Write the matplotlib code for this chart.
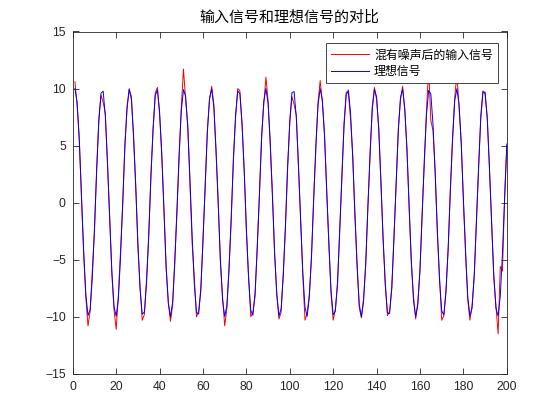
import numpy as np
import matplotlib
matplotlib.use('Agg')
import matplotlib.pyplot as plt

plt.rcParams['font.family'] = ['Noto Sans CJK SC', 'DejaVu Sans']

# ideal signal (blue)
ideal = [10.0, 8.78, 5.40, 0.71, -4.16, -8.01, -9.90, -9.36, -6.54, -2.11,
         2.84, 7.09, 9.60, 9.77, 7.54, 3.47, -1.46, -6.02, -9.11, -9.97,
         -8.39, -4.76, 0.04, 4.85, 8.44, 9.98, 9.07, 5.95, 1.37, -3.55,
         -7.60, -9.78, -9.58, -7.03, -2.75, 2.19, 6.60, 9.40, 9.89, 7.96,
         4.09, -0.80, -5.47, -8.82, -10.0, -8.73, -5.33, -0.62, 4.24, 8.06,
         9.91, 9.33, 6.47, 2.02, -2.92, -7.15, -9.63, -9.75, -7.48, -3.38,
         1.54, 6.09, 9.15, 9.96, 8.34, 4.68, -0.13, -4.91, -8.49, -9.98,
         -9.04, -5.88, -1.28, 3.63, 7.65, 9.80, 9.55, 6.96, 2.67, -2.28,
         -6.67, -9.43, -9.87, -7.90, -4.00, 0.88, 5.56, 8.86, 10.0, 8.69,
         5.25, 0.53, -4.32, -8.12, -9.92, -9.30, -6.40, -1.94, 3.01, 7.21,
         9.65, 9.73, 7.42, 3.30, -1.63, -6.16, -9.18, -9.96, -8.29, -4.60,
         0.22, 5.00, 8.53, 9.99, 9.00, 5.80, 1.20, -3.71, -7.71, -9.82,
         -9.52, -6.90, -2.58, 2.37, 6.73, 9.45, 9.86, 7.85, 3.92, -0.97,
         -5.62, -8.90, -10.0, -8.65, -5.18, -0.44, 4.41, 8.17, 9.93, 9.27,
         6.34, 1.85, -3.09, -7.27, -9.67, -9.71, -7.36, -3.22, 1.72, 6.23,
         9.22, 9.95, 8.24, 4.52, -0.31, -5.06, -8.58, -9.99, -8.96, -5.74,
         -1.11, 3.80, 7.77, 9.84, 9.50, 6.83, 2.50, -2.45, -6.80, -9.48,
         -9.84, -7.80, -3.84, 1.06, 5.70, 8.94, 9.99, 8.60, 5.10, 0.36,
         -4.48, -8.22, -9.94, -9.24, -6.27, -1.76, 3.17, 7.33, 9.69, 9.68,
         7.30, 3.14, -1.80, -6.30, -9.25, -9.94, -8.19, -4.44, 0.40, 5.14]

# noisy input signal (red)
noisy = [10.6, 8.5, 5.6, 0.4, -4.5, -8.3, -10.8, -9.5, -5.9, -2.5,
         3.0, 7.4, 9.4, 8.8, 7.8, 3.2, -1.2, -6.3, -9.4, -11.1,
         -8.1, -4.2, -0.3, 5.1, 8.2, 9.9, 9.3, 5.6, 1.6, -3.9,
         -7.3, -10.3, -9.8, -6.6, -3.0, 2.5, 6.3, 9.6, 10.1, 7.7,
         4.4, -0.5, -5.8, -8.6, -10.4, -9.0, -5.0, -0.9, 4.0, 8.4,
         11.7, 9.0, 6.8, 1.7, -3.6, -6.6, -10.0, -9.5, -7.8, -3.1,
         1.3, 6.4, 9.0, 10.2, 8.6, 4.4, 0.2, -5.2, -8.2, -10.8,
         -9.3, -5.6, -1.6, 3.9, 7.4, 10.0, 9.8, 6.7, 2.9, -2.6,
         -6.4, -10.0, -9.6, -8.2, -3.7, 0.6, 5.9, 8.6, 11.0, 8.9,
         5.0, 0.8, -4.6, -7.9, -10.2, -9.6, -6.1, -2.2, 3.3, 7.0,
         9.3, 8.6, 7.7, 3.0, -1.4, -6.4, -10.3, -9.7, -8.0, -4.9,
         0.5, 4.7, 8.8, 10.7, 8.8, 6.1, 0.9, -3.4, -8.0, -10.3,
         -9.3, -7.2, -2.3, 2.1, 7.0, 9.7, 9.6, 7.3, 4.2, -1.2,
         -5.3, -9.2, -10.1, -8.4, -5.5, -0.2, 4.1, 8.4, 10.1, 9.0,
         6.6, 1.6, -3.3, -7.0, -9.9, -9.5, -7.6, -2.9, 1.5, 6.5,
         9.0, 10.2, 8.0, 4.8, -0.6, -5.3, -8.2, -10.2, -8.7, -6.0,
         -0.8, 3.5, 8.1, 11.8, 7.2, 6.3, 2.8, -2.7, -6.5, -10.3,
         -9.9, -7.5, -4.1, 1.3, 5.4, 9.2, 11.3, 8.4, 5.4, 0.1,
         -4.2, -8.5, -10.3, -9.0, -6.5, -1.5, 2.9, 7.6, 9.8, 9.5,
         7.5, 2.9, -1.6, -6.6, -9.0, -11.5, -5.6, -6.0, 0.6, 5.0]

n = np.arange(1, len(ideal) + 1)

fig = plt.figure(figsize=(5.6, 4.2), dpi=100)
ax = fig.add_axes([0.13, 0.11, 0.775, 0.815])

ax.plot(n, noisy, color='r', linewidth=0.7, label='混有噪声后的输入信号')
ax.plot(n, ideal, color='b', linewidth=0.7, label='理想信号')

ax.set_xlim(0, 200)
ax.set_ylim(-15, 15)
ax.set_xticks(np.arange(0, 201, 20))
ax.set_yticks(np.arange(-15, 16, 5))
ax.tick_params(direction='in', top=True, right=True, length=4, width=0.6,
               labelsize=8.8, colors='#262626', pad=5)
for lbl in ax.get_xticklabels() + ax.get_yticklabels():
    lbl.set_family(['Liberation Sans', 'DejaVu Sans'])
for s in ax.spines.values():
    s.set_linewidth(0.6)
    s.set_color('#262626')

ax.set_title('输入信号和理想信号的对比', fontsize=10.8, pad=7)

leg = ax.legend(loc='upper right', bbox_to_anchor=(0.98, 0.967),
                fontsize=8.6, fancybox=False, framealpha=1,
                edgecolor='#262626', handlelength=3.2, borderpad=0.45,
                labelspacing=0.3, handletextpad=0.4, borderaxespad=0)
leg.get_frame().set_linewidth(0.6)

fig.savefig('out.png', dpi=100)
